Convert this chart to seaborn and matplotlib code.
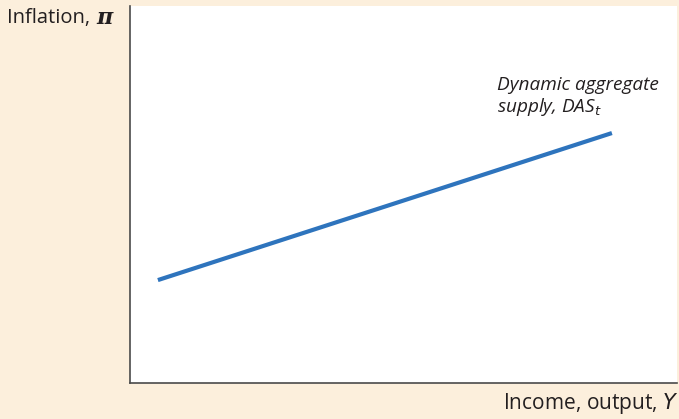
import matplotlib
matplotlib.use("Agg")
import matplotlib.pyplot as plt
import seaborn as sns
import pandas as pd

# Dynamic aggregate supply curve: output vs. inflation (schematic units)
output = [0.51, 8.81]
inflation = [2.73, 6.63]

sns.set_theme(style="white")
plt.rcParams["font.family"] = ["Open Sans", "DejaVu Sans"]

bg = "#FCEFDC"
ink = "#231f20"
fig = plt.figure(figsize=(6.79, 4.19), dpi=100, facecolor=bg)
ax = fig.add_axes([130 / 679, 36 / 419, 547 / 679, 377 / 419])
ax.set_facecolor("white")

df = pd.DataFrame({"Y": output, "pi": inflation})
sns.lineplot(data=df, x="Y", y="pi", ax=ax, color="#2E74BD", linewidth=3.0,
             solid_capstyle="butt")

ax.set_xlim(0, 10)
ax.set_ylim(0, 10)
ax.set_xticks([])
ax.set_yticks([])
ax.set_xlabel("")
ax.set_ylabel("")
for side in ["top", "right"]:
    ax.spines[side].set_visible(False)
for side in ["left", "bottom"]:
    ax.spines[side].set_color("#4a4a4a")
    ax.spines[side].set_linewidth(1.2)

# y-axis title: "Inflation," followed by a bold italic pi
renderer = fig.canvas.get_renderer()
t = fig.text(7 / 679, 1 - 18 / 419, "Inflation, ", fontsize=14.5, color=ink,
             ha="left", va="center")
bb = t.get_window_extent(renderer)
fig.text(bb.x1 / 679 + 1 / 679, 1 - 18 / 419, "π", fontsize=16, color=ink,
         ha="left", va="center", fontweight="bold", fontstyle="italic",
         family=["DejaVu Serif"])

fig.text(1.0, 1 - 403 / 419, "Income, output, $\\mathit{Y}$", fontsize=15,
         color=ink, ha="right", va="center")

fig.text(497 / 679, 1 - 97 / 419, "Dynamic aggregate\nsupply, DAS$_t$",
         fontsize=13.7, color=ink, style="italic", ha="left", va="center",
         linespacing=1.12)

fig.savefig("out.png", dpi=100, facecolor=bg)
